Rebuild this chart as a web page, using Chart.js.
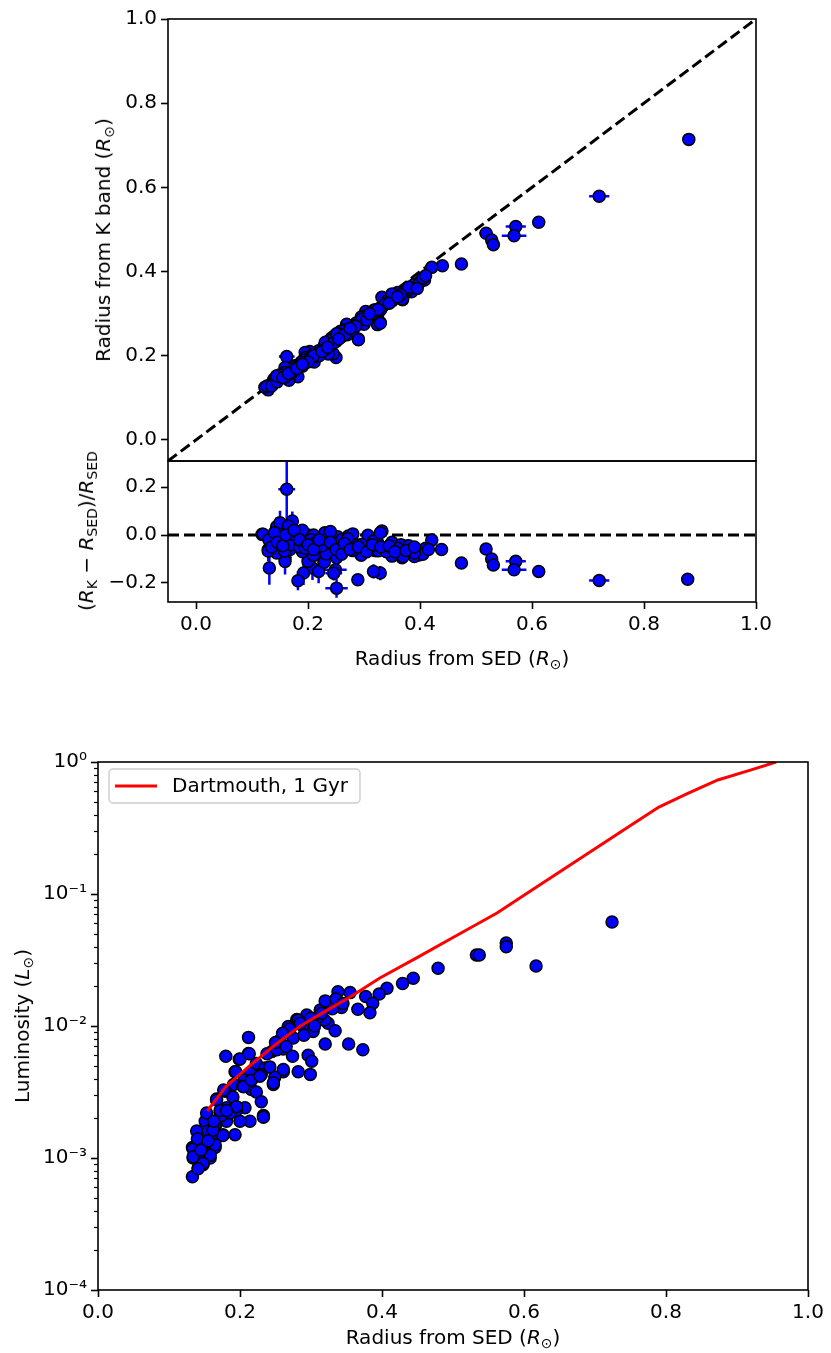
<!DOCTYPE html>
<html>
<head>
<meta charset="utf-8">
<script src="https://cdn.jsdelivr.net/npm/chart.js@4.4.0/dist/chart.umd.min.js"></script>
<style>
  body { margin: 0; width: 831px; height: 1353px; background: #fff; position: relative; overflow: hidden; font-family: "DejaVu Sans", sans-serif; }
  .box { position: absolute; left: 0; width: 831px; }
  .t { position: absolute; font-size: 20px; line-height: 1; white-space: nowrap; color: #000; transform: translate(-50%, -50%); }
  .rot { transform: translate(-50%, -50%) rotate(-90deg); }
  .t sub { font-size: 0.7em; vertical-align: baseline; position: relative; top: 0.28em; }
</style>
</head>
<body>
<div class="box" style="top:0;height:470px"><canvas id="topChart"></canvas></div>
<div class="box" style="top:440px;height:230px"><canvas id="residChart"></canvas></div>
<div class="box" style="top:740px;height:613px"><canvas id="lumChart"></canvas></div>

<div class="t rot" style="left:103px;top:240px">Radius from K band (<i>R</i><sub>⊙</sub>)</div>
<div class="t rot" style="left:86px;top:531px">(<i>R</i><sub>K</sub> − <i>R</i><sub>SED</sub>)/<i>R</i><sub>SED</sub></div>
<div class="t" style="left:462px;top:658px">Radius from SED (<i>R</i><sub>⊙</sub>)</div>
<div class="t rot" style="left:22px;top:1026px">Luminosity (<i>L</i><sub>⊙</sub>)</div>
<div class="t" style="left:453px;top:1337px">Radius from SED (<i>R</i><sub>⊙</sub>)</div>

<script>
// ---- top panel: K-band radius vs SED radius (first points carry visible error bars)
var topSed = [0.880, 0.720, 0.612, 0.571, 0.568, 0.518, 0.528, 0.531, 0.162,
  0.474, 0.440, 0.421, 0.408, 0.397, 0.390, 0.381, 0.385, 0.369, 0.372, 0.358,
  0.349, 0.332, 0.338, 0.342, 0.319, 0.325, 0.329, 0.324, 0.312, 0.301, 0.303,
  0.295, 0.290, 0.283, 0.286, 0.276, 0.269, 0.272, 0.265, 0.258, 0.253, 0.247,
  0.242, 0.250, 0.238, 0.234, 0.229, 0.226, 0.250, 0.241, 0.245, 0.236, 0.219,
  0.222, 0.214, 0.211, 0.207, 0.203, 0.200, 0.195, 0.196, 0.192, 0.188, 0.185,
  0.176, 0.180, 0.182, 0.170, 0.166, 0.166, 0.159, 0.158, 0.154, 0.150, 0.148,
  0.144, 0.142, 0.139, 0.136, 0.132, 0.129, 0.123, 0.127, 0.135, 0.145, 0.160,
  0.170, 0.175, 0.190, 0.205, 0.215, 0.220, 0.230, 0.240, 0.260, 0.270, 0.280,
  0.300, 0.305, 0.315, 0.330, 0.335, 0.350, 0.360, 0.375, 0.380, 0.390, 0.400,
  0.380, 0.368, 0.350, 0.338, 0.319, 0.296, 0.283, 0.251, 0.231, 0.207, 0.177,
  0.144, 0.290, 0.329,
  0.210, 0.225, 0.245, 0.265, 0.285, 0.305, 0.325, 0.345, 0.365, 0.155, 0.165,
  0.185, 0.200, 0.235, 0.255, 0.275, 0.310, 0.395, 0.405, 0.410, 0.360, 0.180, 0.190];
var topK = [0.714, 0.579, 0.517, 0.507, 0.485, 0.491, 0.475, 0.464, 0.198,
  0.418, 0.414, 0.410, 0.380, 0.371, 0.366, 0.363, 0.352, 0.333, 0.346, 0.342,
  0.343, 0.339, 0.323, 0.331, 0.309, 0.300, 0.279, 0.274, 0.296, 0.287, 0.305,
  0.292, 0.240, 0.269, 0.278, 0.270, 0.275, 0.262, 0.262, 0.258, 0.253, 0.247,
  0.242, 0.234, 0.236, 0.230, 0.224, 0.215, 0.196, 0.212, 0.205, 0.204, 0.212,
  0.205, 0.205, 0.185, 0.200, 0.210, 0.190, 0.208, 0.196, 0.190, 0.185, 0.180,
  0.176, 0.168, 0.150, 0.170, 0.162, 0.142, 0.172, 0.160, 0.152, 0.155, 0.146,
  0.152, 0.140, 0.144, 0.135, 0.130, 0.119, 0.125, 0.128, 0.128, 0.138, 0.150,
  0.158, 0.165, 0.175, 0.195, 0.198, 0.200, 0.215, 0.225, 0.245, 0.250, 0.260,
  0.275, 0.295, 0.300, 0.310, 0.320, 0.330, 0.350, 0.355, 0.358, 0.370, 0.375,
  0.363, 0.335, 0.347, 0.323, 0.309, 0.287, 0.271, 0.252, 0.232, 0.200, 0.174,
  0.152, 0.238, 0.277,
  0.200, 0.210, 0.230, 0.250, 0.270, 0.285, 0.310, 0.325, 0.345, 0.148, 0.158,
  0.175, 0.185, 0.220, 0.240, 0.265, 0.300, 0.360, 0.385, 0.390, 0.340, 0.170, 0.180];
var topSedErr = [0.005, 0.018, 0.006, 0.018, 0.022, 0.012, 0.006, 0.006, 0.014];
var topKErr   = [0.014, 0.010, 0.009, 0.008, 0.006, 0.006, 0.008, 0.010, 0.006];

// ---- residual panel: (R_K - R_SED)/R_SED vs SED radius
var resSed = [0.162, 0.878, 0.720, 0.612, 0.571, 0.568, 0.518, 0.528, 0.531,
  0.131, 0.129, 0.159, 0.172, 0.144, 0.208, 0.192, 0.182, 0.251, 0.249, 0.246,
  0.329, 0.317, 0.219, 0.150, 0.165, 0.200, 0.289, 0.474,
  0.4385, 0.421, 0.398, 0.390, 0.368, 0.377, 0.350, 0.350, 0.338, 0.332, 0.324,
  0.251, 0.253, 0.229, 0.229, 0.207, 0.176, 0.118, 0.144, 0.159, 0.272, 0.280,
  0.295, 0.270, 0.300, 0.307, 0.287, 0.366, 0.380, 0.395, 0.367, 0.200, 0.190,
  0.210, 0.150, 0.140, 0.190, 0.220, 0.235, 0.210, 0.168, 0.165, 0.230, 0.240,
  0.350, 0.320, 0.280, 0.260, 0.325, 0.232, 0.180, 0.158, 0.170, 0.185, 0.195,
  0.205, 0.215, 0.225, 0.260, 0.310, 0.340, 0.360, 0.385, 0.400, 0.410, 0.405,
  0.390, 0.370, 0.271, 0.296, 0.317, 0.329, 0.120, 0.129, 0.171,
  0.130, 0.135, 0.140, 0.145, 0.155, 0.160, 0.175, 0.185, 0.195, 0.200, 0.210,
  0.220, 0.240, 0.250, 0.260, 0.265, 0.275, 0.290, 0.305, 0.315, 0.330, 0.345,
  0.355, 0.375, 0.390, 0.415];
var resVal = [0.192, -0.185, -0.190, -0.152, -0.110, -0.145, -0.058, -0.100, -0.125,
  -0.138, -0.060, -0.095, 0.059, 0.035, -0.138, -0.159, -0.191, -0.222, -0.145, -0.160,
  -0.159, -0.152, -0.152, 0.052, 0.038, -0.110, -0.187, -0.117,
  -0.060, -0.021, -0.083, -0.090, -0.095, -0.046, -0.088, -0.030, -0.053, 0.017, -0.030,
  -0.095, -0.007, -0.025, -0.114, -0.044, -0.018, 0.003, -0.075, -0.110, -0.004, 0.005,
  -0.084, -0.040, -0.040, -0.001, -0.040, -0.040, -0.045, -0.070, -0.064, 0.000, 0.020,
  0.000, -0.010, -0.035, -0.070, -0.060, -0.045, -0.085, -0.060, -0.030, 0.010, 0.015,
  -0.060, -0.065, -0.065, -0.050, -0.066, -0.079, -0.014, -0.067, -0.040, -0.050, -0.030,
  -0.020, -0.030, -0.045, -0.020, -0.050, -0.070, -0.055, -0.060, -0.065, -0.055, -0.080,
  -0.075, -0.090, -0.014, -0.039, -0.025, 0.010, 0.003, -0.067, 0.003,
  -0.020, -0.050, 0.010, -0.030, -0.045, 0.000, 0.020, -0.020, -0.055, -0.040, -0.060,
  -0.020, -0.030, -0.060, -0.080, -0.035, -0.060, -0.050, -0.070, -0.040, -0.050, -0.045,
  -0.070, -0.065, -0.050, -0.060];
var resSedErr = [0.015, 0.008, 0.018, 0.006, 0.018, 0.022, 0.010, 0.006, 0.006,
  0.006, 0.006, 0.008, 0.006, 0.006, 0.006, 0.006, 0.006, 0.020, 0.020, 0.015,
  0.006, 0.006, 0.006, 0.006, 0.006, 0.006, 0.006, 0.005];
var resValErr = [0.170, 0.012, 0.012, 0.012, 0.015, 0.012, 0.012, 0.012, 0.012,
  0.070, 0.050, 0.070, 0.040, 0.040, 0.050, 0.050, 0.040, 0.040, 0.030, 0.030,
  0.030, 0.030, 0.050, 0.050, 0.040, 0.050, 0.020, 0.010];

// ---- bottom panel: luminosity vs SED radius
var lumSed = [0.724, 0.617, 0.575, 0.575, 0.533, 0.537, 0.479, 0.444, 0.429, 0.407,
  0.396, 0.377, 0.387, 0.366, 0.383, 0.338, 0.355, 0.343, 0.327, 0.313,
  0.294, 0.280, 0.268, 0.289, 0.324, 0.334, 0.303, 0.320, 0.353, 0.373,
  0.256, 0.275, 0.212, 0.245, 0.261, 0.274, 0.296, 0.301, 0.282, 0.299,
  0.212, 0.180, 0.199, 0.223, 0.235, 0.193, 0.230, 0.214, 0.261, 0.249,
  0.247, 0.206, 0.191, 0.216, 0.204, 0.179, 0.190, 0.167, 0.207, 0.233,
  0.214, 0.200, 0.181, 0.172, 0.181, 0.166, 0.193, 0.176, 0.160, 0.151,
  0.151, 0.165, 0.133, 0.146, 0.134, 0.158, 0.148, 0.141, 0.133, 0.148,
  0.139, 0.155, 0.174, 0.195, 0.282, 0.319, 0.310,
  0.200, 0.213, 0.194, 0.205, 0.177, 0.167, 0.233, 0.165, 0.176, 0.148,
  0.165, 0.134, 0.146, 0.158, 0.134, 0.148, 0.141, 0.153, 0.162, 0.172,
  0.186, 0.195, 0.223, 0.216, 0.228, 0.242, 0.238, 0.252, 0.261, 0.247,
  0.230, 0.181, 0.140, 0.145, 0.155, 0.163,
  0.270, 0.285, 0.300, 0.315, 0.330, 0.260, 0.290, 0.305, 0.250, 0.265,
  0.320, 0.335, 0.345];
var lumL = [0.0614, 0.0285, 0.0426, 0.0398, 0.0345, 0.0345, 0.0274, 0.0230, 0.0210, 0.0193,
  0.0175, 0.0167, 0.0149, 0.0134, 0.0126, 0.0182, 0.0179, 0.0138, 0.0142, 0.0132,
  0.0121, 0.0112, 0.0099, 0.0099, 0.0105, 0.0092, 0.0091, 0.0073, 0.0073, 0.0066,
  0.0078, 0.0081, 0.0082, 0.0064, 0.0067, 0.0059, 0.0060, 0.0054, 0.0045, 0.0043,
  0.0062, 0.0059, 0.0056, 0.0052, 0.0048, 0.0045, 0.0043, 0.0044, 0.0045, 0.0041,
  0.0036, 0.0039, 0.0036, 0.0033, 0.0035, 0.0032, 0.0029, 0.0028, 0.0024, 0.0021,
  0.0019, 0.0019, 0.0024, 0.0022, 0.0019, 0.0018, 0.0015, 0.0015, 0.0015, 0.0019,
  0.0013, 0.0012, 0.0012, 0.0012, 0.0010, 0.0010, 0.00089, 0.00084, 0.00072, 0.0011,
  0.0016, 0.0016, 0.0021, 0.0023, 0.0111, 0.0111, 0.0117,
  0.00562, 0.00617, 0.00451, 0.00347, 0.00327, 0.00275, 0.00204, 0.00178, 0.00148, 0.00129,
  0.00126, 0.00117, 0.00105, 0.00105, 0.00102, 0.00091, 0.00083, 0.00219, 0.00162, 0.00229,
  0.00219, 0.00245, 0.00316, 0.00389, 0.00417, 0.00490, 0.00617, 0.00660, 0.00468, 0.00372,
  0.00267, 0.00229, 0.00140, 0.00115, 0.00135, 0.00190,
  0.0095, 0.0105, 0.0115, 0.0125, 0.0135, 0.0088, 0.0085, 0.0100, 0.0075, 0.0070,
  0.0155, 0.0160, 0.0148];

// Dartmouth 1 Gyr isochrone
var dartR = [0.154, 0.180, 0.214, 0.250, 0.285, 0.320, 0.355, 0.397, 0.450, 0.500,
  0.550, 0.562, 0.600, 0.650, 0.700, 0.750, 0.790, 0.830, 0.873, 0.920, 0.955];
var dartL = [0.00227, 0.00347, 0.00501, 0.00724, 0.0100, 0.0129, 0.0166, 0.0231, 0.0331, 0.0468,
  0.0661, 0.0718, 0.0977, 0.147, 0.220, 0.330, 0.456, 0.575, 0.731, 0.871, 1.00];

var diagLine = [-0.05, 1.0];
var zeroLineX = [-0.05, 1.0];
var radiusTicks = [0.0, 0.2, 0.4, 0.6, 0.8, 1.0];
var topYTicks = [0.0, 0.2, 0.4, 0.6, 0.8, 1.0];
var residYTicks = [-0.2, 0.0, 0.2];
var lumYTicks = [1e-4, 1e-3, 1e-2, 1e-1, 1];

Chart.defaults.font.family = "'DejaVu Sans', sans-serif";
Chart.defaults.font.size = 20;
Chart.defaults.color = "#000";
Chart.defaults.animation = false;
Chart.defaults.responsive = true;
Chart.defaults.maintainAspectRatio = false;
Chart.defaults.plugins.legend.display = false;
Chart.defaults.plugins.tooltip.enabled = false;

function pairs(xs, ys) {
  return xs.map(function (v, i) { return { x: v, y: ys[i] }; });
}
function fmt1(v) {
  if (Math.abs(v) < 1e-9) return "0.0";
  return (v < 0 ? "\u2212" : "") + Math.abs(v).toFixed(1);
}
var supMap = { "-": "\u207B", "0": "\u2070", "1": "\u00B9", "2": "\u00B2", "3": "\u00B3", "4": "\u2074" };
function fmtPow(v) {
  var e = String(Math.round(Math.log10(v)));
  return "10" + e.split("").map(function (c) { return supMap[c]; }).join("");
}
function fixedTicks(list) {
  return function (s) { s.ticks = list.map(function (v) { return { value: v }; }); };
}
// fixed axis width, and no extra room reserved for edge labels
function yWidth(w) {
  return function (s) { s.width = w; s.paddingTop = 0; s.paddingBottom = 0; };
}
var tickGrid = { drawOnChartArea: false, drawTicks: true, tickLength: 7, tickWidth: 1.6, tickColor: "#000" };

var framePlugin = {
  id: "frame",
  afterDraw: function (chart) {
    var a = chart.chartArea, c = chart.ctx;
    c.save();
    c.strokeStyle = "#000";
    c.lineWidth = 1.6;
    c.strokeRect(a.left, a.top, a.right - a.left, a.bottom - a.top);
    c.restore();
  }
};

var errorBars = {
  id: "errorBars",
  beforeDatasetsDraw: function (chart) {
    var c = chart.ctx, a = chart.chartArea, xs = chart.scales.x, ys = chart.scales.y;
    c.save();
    c.beginPath();
    c.rect(a.left, a.top, a.right - a.left, a.bottom - a.top);
    c.clip();
    chart.data.datasets.forEach(function (ds) {
      if (!ds.errX && !ds.errY) return;
      c.strokeStyle = ds.backgroundColor;
      c.lineWidth = 2.5;
      ds.data.forEach(function (p, i) {
        var ex = (ds.errX || [])[i] || 0, ey = (ds.errY || [])[i] || 0;
        c.beginPath();
        if (ex) {
          c.moveTo(xs.getPixelForValue(p.x - ex), ys.getPixelForValue(p.y));
          c.lineTo(xs.getPixelForValue(p.x + ex), ys.getPixelForValue(p.y));
        }
        if (ey) {
          c.moveTo(xs.getPixelForValue(p.x), ys.getPixelForValue(p.y - ey));
          c.lineTo(xs.getPixelForValue(p.x), ys.getPixelForValue(p.y + ey));
        }
        c.stroke();
      });
    });
    c.restore();
  }
};

var minorLogTicks = {
  id: "minorLogTicks",
  afterDraw: function (chart) {
    var c = chart.ctx, a = chart.chartArea, ys = chart.scales.y;
    c.save();
    c.strokeStyle = "#000";
    c.lineWidth = 1.2;
    for (var n = -4; n < 0; n++) {
      for (var k = 2; k <= 9; k++) {
        var py = Math.round(ys.getPixelForValue(k * Math.pow(10, n))) + 0.5;
        c.beginPath();
        c.moveTo(a.left - 4, py);
        c.lineTo(a.left, py);
        c.stroke();
      }
    }
    c.restore();
  }
};

var boxLegend = {
  id: "boxLegend",
  afterDraw: function (chart) {
    var ds = chart.data.datasets.filter(function (d) { return d.label; })[0];
    var a = chart.chartArea, c = chart.ctx;
    c.save();
    c.font = "20px 'DejaVu Sans'";
    var tw = c.measureText(ds.label).width;
    var x0 = a.left + 11, y0 = a.top + 7, h = 34, w = 63 + tw + 12;
    c.beginPath();
    if (c.roundRect) c.roundRect(x0, y0, w, h, 4); else c.rect(x0, y0, w, h);
    c.fillStyle = "rgba(255,255,255,0.8)";
    c.fill();
    c.strokeStyle = "#cccccc";
    c.lineWidth = 1.4;
    c.stroke();
    c.beginPath();
    c.strokeStyle = ds.borderColor;
    c.lineWidth = 3;
    c.moveTo(x0 + 6, y0 + h / 2);
    c.lineTo(x0 + 48, y0 + h / 2);
    c.stroke();
    c.fillStyle = "#000";
    c.textBaseline = "middle";
    c.fillText(ds.label, x0 + 63, y0 + h / 2 + 1);
    c.restore();
  }
};

var pointStyle = {
  backgroundColor: "#0000ff",
  borderColor: "#000000",
  borderWidth: 1.5,
  pointRadius: 6,
  pointHoverRadius: 6
};

// top panel
new Chart(document.getElementById("topChart"), {
  type: "scatter",
  data: {
    datasets: [
      Object.assign({
        data: pairs(topSed, topK),
        errX: topSedErr,
        errY: topKErr,
        order: 0
      }, pointStyle),
      {
        data: pairs(diagLine, diagLine),
        showLine: true,
        borderColor: "#000",
        borderWidth: 3,
        borderDash: [11, 5],
        pointRadius: 0,
        order: 1
      }
    ]
  },
  options: {
    layout: { padding: { top: 19, right: 75, bottom: 9, left: 0 } },
    scales: {
      x: { type: "linear", min: -0.05, max: 1.0, display: false },
      y: {
        type: "linear", min: -0.05, max: 1.0,
        grid: tickGrid, border: { display: false },
        ticks: { padding: 4, callback: fmt1 },
        afterBuildTicks: fixedTicks(topYTicks),
        afterFit: yWidth(168)
      }
    }
  },
  plugins: [errorBars, framePlugin]
});

// residual panel
new Chart(document.getElementById("residChart"), {
  type: "scatter",
  data: {
    datasets: [
      Object.assign({
        data: pairs(resSed, resVal),
        errX: resSedErr,
        errY: resValErr,
        order: 0
      }, pointStyle),
      {
        data: pairs(zeroLineX, [0, 0]),
        showLine: true,
        borderColor: "#000",
        borderWidth: 3,
        borderDash: [11, 5],
        pointRadius: 0,
        order: 1
      }
    ]
  },
  options: {
    layout: { padding: { top: 21, right: 75, bottom: 0, left: 0 } },
    scales: {
      x: {
        type: "linear", min: -0.05, max: 1.0,
        grid: tickGrid, border: { display: false },
        ticks: { padding: 4, callback: fmt1, maxRotation: 0 },
        afterBuildTicks: fixedTicks(radiusTicks),
        afterFit: function (s) { s.height = 68; }
      },
      y: {
        type: "linear", min: -0.28, max: 0.31,
        grid: tickGrid, border: { display: false },
        ticks: { padding: 4, callback: fmt1 },
        afterBuildTicks: fixedTicks(residYTicks),
        afterFit: yWidth(168)
      }
    }
  },
  plugins: [errorBars, framePlugin]
});

// luminosity panel
new Chart(document.getElementById("lumChart"), {
  type: "scatter",
  data: {
    datasets: [
      {
        label: "Dartmouth, 1 Gyr",
        data: pairs(dartR, dartL),
        showLine: true,
        borderColor: "#ff0000",
        borderWidth: 3,
        pointRadius: 0,
        order: 0
      },
      Object.assign({
        data: pairs(lumSed, lumL),
        order: 1
      }, pointStyle)
    ]
  },
  options: {
    layout: { padding: { top: 22, right: 23, bottom: 0, left: 0 } },
    scales: {
      x: {
        type: "linear", min: 0, max: 1.0,
        grid: tickGrid, border: { display: false },
        ticks: { padding: 4, callback: fmt1, maxRotation: 0 },
        afterBuildTicks: fixedTicks(radiusTicks),
        afterFit: function (s) { s.height = 63; }
      },
      y: {
        type: "logarithmic", min: 1e-4, max: 1,
        grid: tickGrid, border: { display: false },
        ticks: { padding: 4, callback: fmtPow },
        afterBuildTicks: fixedTicks(lumYTicks),
        afterFit: yWidth(98)
      }
    }
  },
  plugins: [minorLogTicks, boxLegend, framePlugin]
});
</script>
</body>
</html>
